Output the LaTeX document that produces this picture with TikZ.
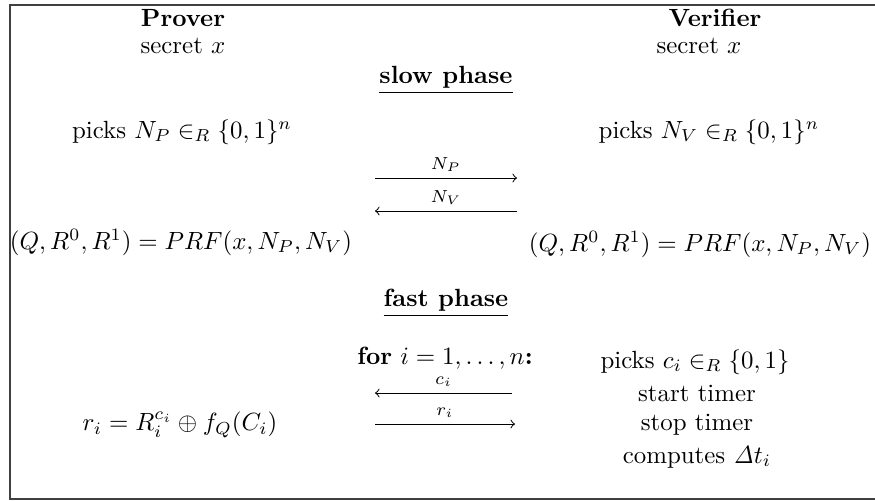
\documentclass[tikz,border=0pt]{standalone}
\begin{document}
\begin{tikzpicture}[x=0.402pt,y=-0.402pt,
  every node/.style={inner sep=0pt, outer sep=0pt},
  head/.style={font=\bfseries},
  msg/.style={->, line width=0.4pt},
  lbl/.style={above=2.5pt, font=\scriptsize}]
\useasboundingbox (0,0) rectangle (875,500);
\clip (0,0) rectangle (875,500);
\draw[line width=0.7pt, draw=black!75] (900,5) -- (10,5) -- (10,499) -- (900,499);

\node[head] (prover) at (183,18) {Prover};
\node (psec) at (183,46) {secret $x$};
\node[head] (verifier) at (715,18) {Verifier};
\node (vsec) at (699,46) {secret $x$};

\node (slow) at (446,80) {\underline{\textbf{slow phase}}};

\node (pnp) at (182,132) {picks $N_P \in_R \{0,1\}^n$};
\node (vnv) at (709,132) {picks $N_V \in_R \{0,1\}^n$};

\coordinate (m1l) at (375,178);
\coordinate (m1r) at (517,178);
\coordinate (m2l) at (375,211);
\coordinate (m2r) at (517,211);
\draw[msg] (m1l) -- node[lbl] {$N_P$} (m1r);
\draw[msg] (m2r) -- node[lbl] {$N_V$} (m2l);

\node (pprf) at (181,242) {$(Q,R^0,R^1) = PRF(x,N_P,N_V)$};
\node (vprf) at (700,244) {$(Q,R^0,R^1) = PRF(x,N_P,N_V)$};

\node (fast) at (446,303) {\underline{\textbf{fast phase}}};

\node (loop) at (445,358) {\textbf{for} $i = 1,\ldots,n$\textbf{:}};

\node (vpick) at (695,362) {picks $c_i \in_R \{0,1\}$};
\node (vstart) at (697,393) {start timer};
\node (vstop) at (697,425) {stop timer};
\node (vcomp) at (697,457) {computes $\mathit{\Delta} t_i$};

\coordinate (m3l) at (375,393);
\coordinate (m3r) at (512,393);
\coordinate (m4l) at (375,424);
\coordinate (m4r) at (515,424);
\draw[msg] (m3r) -- node[lbl] {$c_i$} (m3l);
\draw[msg] (m4l) -- node[lbl] {$r_i$} (m4r);

\node (presp) at (180,425) {$r_i = R_i^{c_i} \oplus f_Q(C_i)$};
\end{tikzpicture}
\end{document}
